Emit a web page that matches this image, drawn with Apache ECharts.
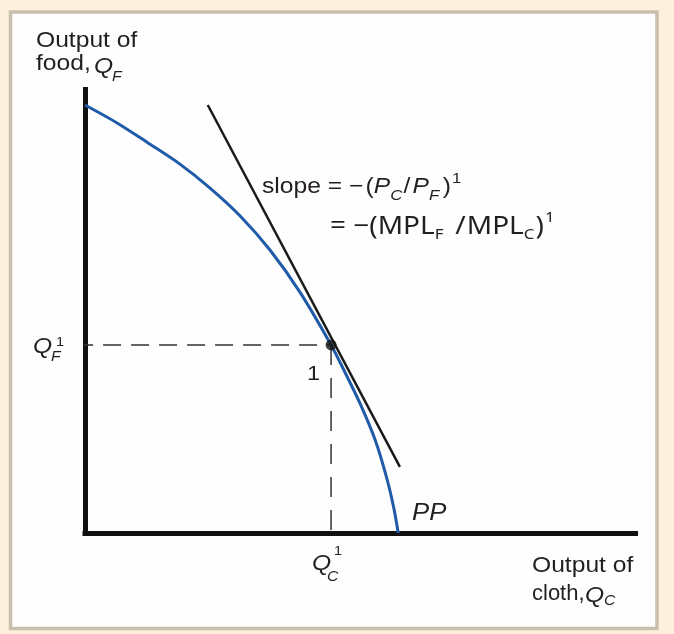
<!DOCTYPE html>
<html>
<head>
<meta charset="utf-8">
<script src="https://cdn.jsdelivr.net/npm/echarts@6/dist/echarts.min.js"></script>
<style>
  html, body { margin: 0; padding: 0; background: #fdf0dc; }
  #main { width: 674px; height: 634px; }
</style>
</head>
<body>
<div id="main"></div>
<script>
// Production possibility frontier PP: cloth output (x) vs food output (y), axis units 0–100
const clothOutput = [0, 5.9, 11.4, 17.0, 22.5, 28.1, 33.6, 39.1, 44.7, 47.2, 50.0, 52.7, 54.9, 56.1, 56.9];
const foodOutput  = [96.5, 92.4, 88.0, 83.4, 78.0, 71.6, 63.8, 54.2, 42.4, 36.3, 29.1, 21.0, 12.0, 5.6, 0];

// Production point 1 on the frontier
const pointCloth = 44.7;
const pointFood = 42.4;

// Relative price line, tangent at point 1
const priceLineCloth = [22.3, 57.2];
const priceLineFood  = [96.5, 14.9];

// Where the guide lines cross past the axes (tick marks)
const tickOvershoot = -1.8;

const frontier = clothOutput.map((c, i) => [c, foodOutput[i]]);
const priceLine = priceLineCloth.map((c, i) => [c, priceLineFood[i]]);

const chart = echarts.init(document.getElementById('main'), null, { renderer: 'canvas' });

const SANS = "'Liberation Sans', Arial, Helvetica, sans-serif";
const ALT = "'Noto Sans', 'Open Sans', sans-serif";
const INK = '#231f20';
const STRETCH = 1.12;

function txt(x, y, text, size, italic, extra, sx) {
  return {
    type: 'text', x: x, y: y, scaleX: sx || STRETCH, z: 20,
    style: Object.assign({
      text: text, fill: INK, fontSize: size, fontFamily: SANS,
      fontStyle: italic ? 'italic' : 'normal',
      align: 'left', verticalAlign: 'middle'
    }, extra || {})
  };
}

const axisCommon = {
  type: 'value', min: 0, max: 100,
  axisLine: { show: true, onZero: false, lineStyle: { color: '#111', width: 5, cap: 'square' } },
  axisTick: { show: false }, axisLabel: { show: false }, splitLine: { show: false }
};

const option = {
  backgroundColor: '#fdf0dc',
  animation: false,
  grid: { left: 85, right: 38.5, top: 89.5, bottom: 101 },
  xAxis: axisCommon,
  yAxis: axisCommon,
  graphic: [
    {
      type: 'rect', z: -10, silent: true,
      shape: { x: 10.5, y: 12, width: 646.5, height: 616.5 },
      style: { fill: '#fefefe', stroke: '#c9bfae', lineWidth: 3.5 }
    },
    // vertical axis title
    txt(36, 41, 'Output of', 22, false),
    txt(36, 64, 'food,', 22, false),
    txt(94, 67, 'Q', 22, true),
    txt(112, 77, 'F', 14, true),
    // Q_F^1 on the food axis
    txt(33, 346.5, 'Q', 22, true),
    txt(56, 342, '1', 13, false),
    txt(51, 357.5, 'F', 14, true),
    // slope annotation
    {
      type: 'text', x: 262, y: 187, scaleX: STRETCH, z: 20,
      style: {
        text: '{n|slope = \u2212}{pl|(}{i|P}{sc|C}{sl|/}{i|P}{sc|F}{pr|)}{sp|1}',
        align: 'left', verticalAlign: 'middle', fill: INK,
        rich: {
          n:  { fontSize: 22, fontFamily: SANS, lineHeight: 32, fill: INK },
          pl: { fontSize: 22, fontFamily: SANS, lineHeight: 32, fill: INK, padding: [0, 0, 0, 2] },
          sl: { fontSize: 22, fontFamily: SANS, lineHeight: 32, fill: INK, padding: [0, 2, 0, 1] },
          pr: { fontSize: 22, fontFamily: SANS, lineHeight: 32, fill: INK, padding: [0, 0, 0, 3] },
          i:  { fontSize: 22, fontFamily: SANS, fontStyle: 'italic', lineHeight: 32, fill: INK },
          sc: { fontSize: 15, fontFamily: SANS, fontStyle: 'italic', lineHeight: 14, verticalAlign: 'bottom', fill: INK },
          sp: { fontSize: 15, fontFamily: SANS, lineHeight: 20, verticalAlign: 'top', fill: INK, padding: [0, 0, 0, 1] }
        }
      }
    },
    {
      type: 'text', x: 330, y: 226.5, scaleX: STRETCH, z: 20,
      style: {
        text: '{m|= \u2212(MPL}{ms|F}{sl| /}{m|MPL}{ms|C}{mr|)}{mp|1}',
        align: 'left', verticalAlign: 'middle', fill: INK,
        rich: {
          m:  { fontSize: 25, fontFamily: ALT, lineHeight: 32, fill: INK },
          sl: { fontSize: 25, fontFamily: ALT, lineHeight: 32, fill: INK, padding: [0, 1, 0, 4] },
          mr: { fontSize: 25, fontFamily: ALT, lineHeight: 32, fill: INK, padding: [0, 0, 0, 1] },
          ms: { fontSize: 15, fontFamily: ALT, lineHeight: 25, verticalAlign: 'bottom', fill: INK },
          mp: { fontSize: 15, fontFamily: ALT, lineHeight: 19, verticalAlign: 'top', fill: INK, padding: [0, 0, 0, 1] }
        }
      }
    },
    // point label
    txt(307, 374.5, '1', 21, false),
    // frontier label
    txt(412, 513.5, 'PP', 23, true),
    // Q_C^1 on the cloth axis
    txt(312, 563.5, 'Q', 22, true),
    txt(334, 551, '1', 13, false),
    txt(327, 577.5, 'C', 14, true),
    // horizontal axis title
    txt(532, 565.5, 'Output of', 22, false),
    txt(532, 594, 'cloth,', 22, false, null, 1.0),
    txt(585, 596, 'Q', 22, true),
    txt(604, 601.5, 'C', 14, true)
  ],
  series: [
    {
      name: 'guide-h', type: 'line', clip: false, silent: true, symbol: 'none', z: 3,
      data: [[tickOvershoot, pointFood], [pointCloth, pointFood]],
      lineStyle: { color: '#333', width: 1.5, type: [18, 10] }
    },
    {
      name: 'guide-v', type: 'line', clip: false, silent: true, symbol: 'none', z: 3,
      data: [[pointCloth, pointFood], [pointCloth, tickOvershoot]],
      lineStyle: { color: '#333', width: 1.5, type: [20, 13] }
    },
    {
      name: 'price line', type: 'line', clip: false, silent: true, symbol: 'none', z: 4,
      data: priceLine,
      lineStyle: { color: '#1a1a1a', width: 2.5 }
    },
    {
      name: 'PP', type: 'line', clip: false, silent: true, symbol: 'none', z: 5,
      smooth: 0.3,
      data: frontier,
      lineStyle: { color: '#1f5ba8', width: 3 }
    },
    {
      name: 'point 1', type: 'scatter', silent: true, z: 6,
      data: [[pointCloth, pointFood]],
      symbolSize: 11,
      itemStyle: { color: '#111' }
    }
  ]
};

chart.setOption(option);
</script>
</body>
</html>
